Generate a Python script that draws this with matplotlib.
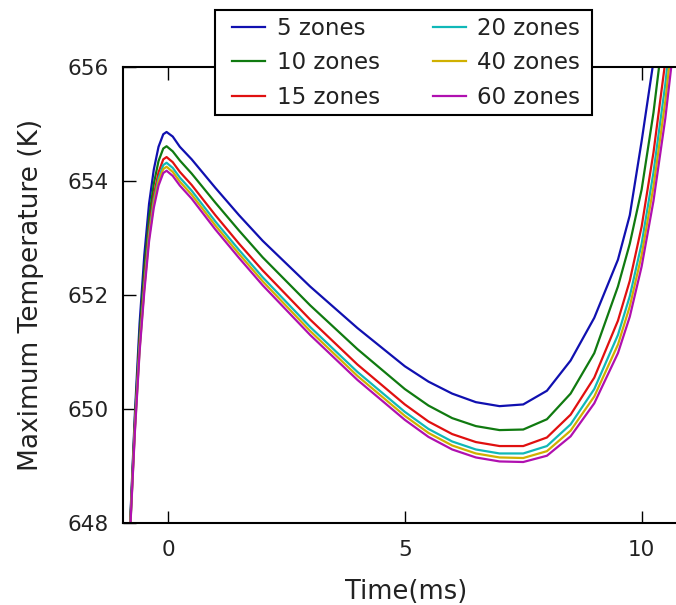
import matplotlib
matplotlib.use("Agg")
import matplotlib.pyplot as plt
from matplotlib.patches import Rectangle

time_ms = [-0.9, -0.8, -0.7, -0.6, -0.5, -0.4, -0.3, -0.2, -0.1, -0.03, 0.1, 0.25, 0.5,
           1.0, 1.5, 2.0, 3.0, 4.0, 5.0, 5.5, 6.0, 6.5, 7.0, 7.5, 8.0, 8.5, 9.0,
           9.5, 9.75, 10.0, 10.25, 10.5, 10.75]

zones_5 = [646.5, 648.0, 649.9, 651.5, 652.7, 653.6, 654.2, 654.6, 654.82, 654.86, 654.78, 654.6, 654.38,
           653.88, 653.4, 652.95, 652.15, 651.42, 650.75, 650.48, 650.27, 650.12, 650.05, 650.08,
           650.32, 650.85, 651.6, 652.62, 653.4, 654.7, 656.1, 657.8, 659.8]
zones_10 = [646.4, 647.95, 649.8, 651.3, 652.45, 653.35, 653.95, 654.35, 654.57, 654.61, 654.52, 654.36, 654.13,
            653.62, 653.13, 652.66, 651.82, 651.05, 650.35, 650.06, 649.84, 649.7, 649.63, 649.64,
            649.82, 650.27, 650.98, 652.15, 652.9, 653.85, 655.2, 656.9, 658.9]
zones_15 = [646.35, 647.9, 649.7, 651.15, 652.25, 653.15, 653.75, 654.15, 654.38, 654.42, 654.33, 654.16, 653.93,
            653.4, 652.9, 652.43, 651.57, 650.78, 650.08, 649.78, 649.56, 649.42, 649.35, 649.35,
            649.5, 649.9, 650.55, 651.55, 652.25, 653.2, 654.5, 656.1, 658.0]
zones_20 = [646.3, 647.88, 649.65, 651.08, 652.17, 653.07, 653.66, 654.05, 654.28, 654.32, 654.23, 654.06, 653.83,
            653.29, 652.79, 652.31, 651.44, 650.65, 649.95, 649.65, 649.43, 649.29, 649.22, 649.22,
            649.35, 649.73, 650.35, 651.3, 651.98, 652.9, 654.15, 655.7, 657.6]
zones_40 = [646.28, 647.86, 649.62, 651.04, 652.12, 653.01, 653.6, 653.99, 654.21, 654.25, 654.16, 653.99, 653.76,
            653.22, 652.72, 652.24, 651.37, 650.58, 649.88, 649.58, 649.36, 649.22, 649.15, 649.14,
            649.26, 649.62, 650.22, 651.13, 651.8, 652.7, 653.9, 655.4, 657.3]
zones_60 = [646.25, 647.84, 649.58, 651.0, 652.06, 652.94, 653.53, 653.92, 654.14, 654.18, 654.09, 653.92, 653.69,
            653.15, 652.65, 652.17, 651.3, 650.51, 649.81, 649.51, 649.29, 649.15, 649.08, 649.07,
            649.18, 649.52, 650.1, 650.98, 651.62, 652.5, 653.65, 655.1, 656.9]

labels = ["5 zones", "10 zones", "15 zones", "20 zones", "40 zones", "60 zones"]
series = [zones_5, zones_10, zones_15, zones_20, zones_40, zones_60]
colors = ["#1010b0", "#107a10", "#e01010", "#10b8b8", "#d0b000", "#b010b0"]

x_ticks = [0, 5, 10]
y_ticks = [648, 650, 652, 654, 656]

W, H = 676, 605
fig = plt.figure(figsize=(6.76, 6.05), dpi=100)
ax = fig.add_axes([123 / W, 1 - 523 / H, (689 - 123) / W, (523 - 67) / H])

handles = []
for vals, lab, col in zip(series, labels, colors):
    h, = ax.plot(time_ms, vals, color=col, lw=1.6, label=lab)
    handles.append(h)

ax.set_xlim(-0.95, 11.0)
ax.set_ylim(648, 656)
ax.set_xticks(x_ticks)
ax.set_yticks(y_ticks)
ax.tick_params(direction="in", length=9, width=1, top=True, right=True,
               labelsize=15.5, colors="black", labelcolor="#222222")
ax.tick_params(axis="x", pad=12)
ax.tick_params(axis="y", pad=10)
for s in ax.spines.values():
    s.set_linewidth(1.5)

ax.set_xlabel("Time(ms)", fontsize=18.5, color="#222222", labelpad=14)
ax.set_ylabel("Maximum Temperature (K)", fontsize=19, color="#222222", labelpad=17)

# legend frame
frame = Rectangle((215 / W, 1 - 115 / H), (592 - 215) / W, (115 - 10) / H,
                  transform=fig.transFigure, facecolor="white", edgecolor="black",
                  linewidth=1.5, zorder=3)
fig.add_artist(frame)

leg = fig.legend(handles, labels, loc="upper left", ncol=2,
                 bbox_to_anchor=(232 / W, 1 - 17 / H), borderaxespad=0,
                 fontsize=16.5, frameon=False,
                 handlelength=1.45, columnspacing=2.3, labelspacing=0.5,
                 borderpad=0, handletextpad=0.5)
leg.set_zorder(4)
for t in leg.get_texts():
    t.set_color("#222222")

fig.savefig("out.png", dpi=100)
